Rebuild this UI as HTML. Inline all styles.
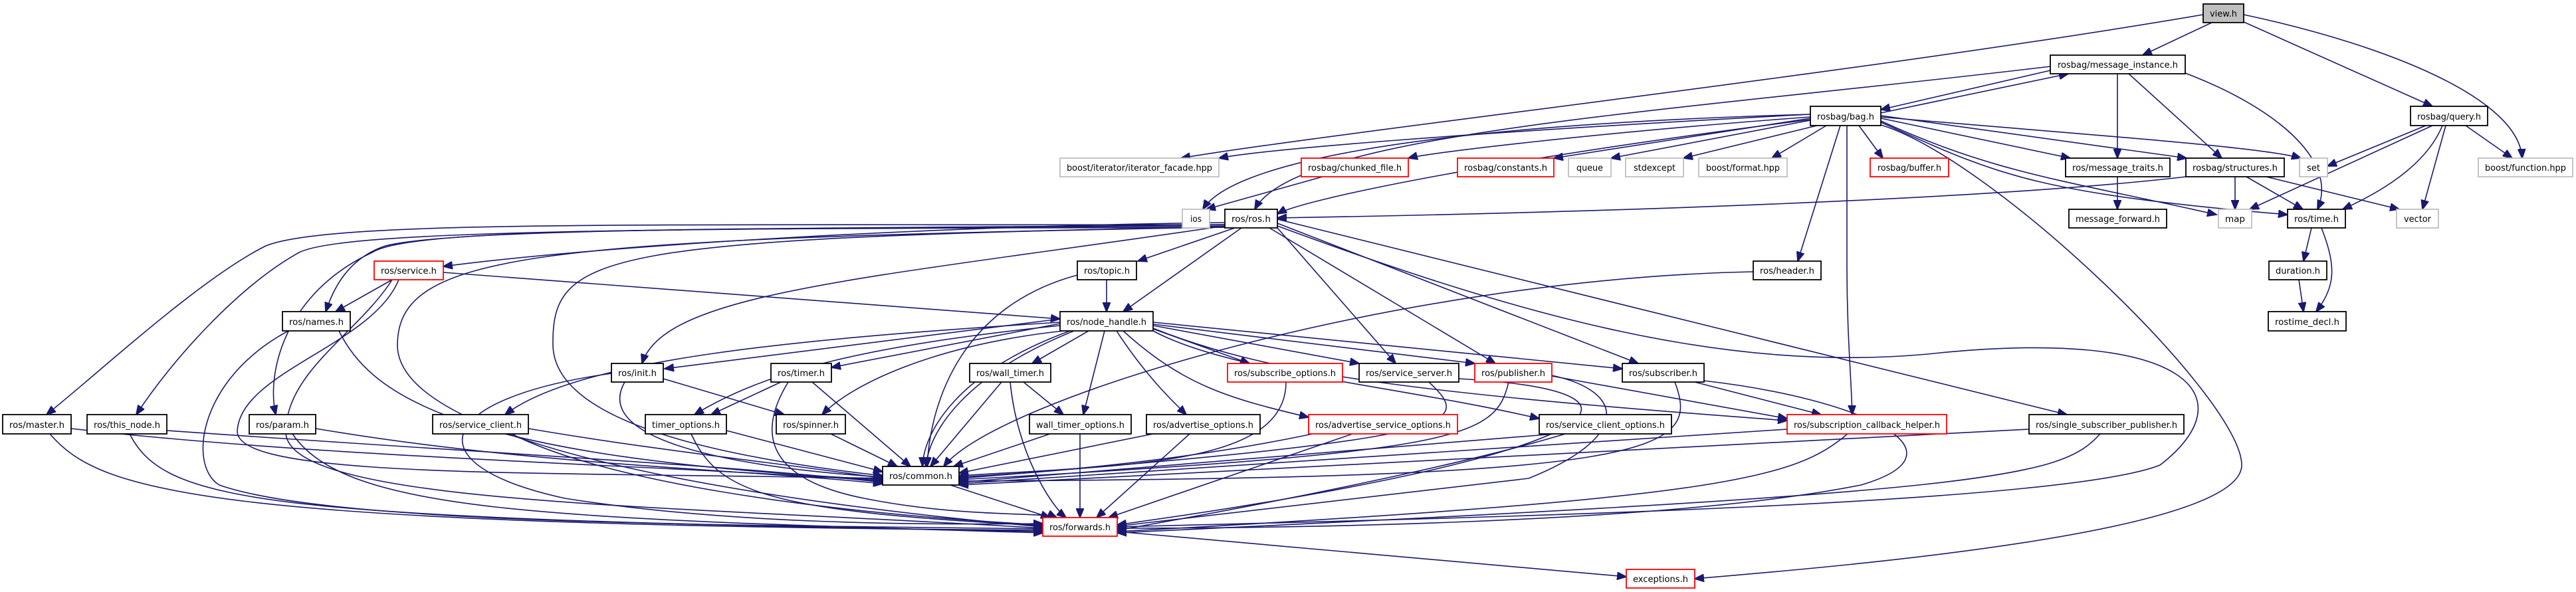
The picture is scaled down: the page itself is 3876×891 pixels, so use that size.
<!DOCTYPE html>
<html><head><meta charset="utf-8"><style>
html,body{margin:0;padding:0;background:#fff;}
svg{display:block;}
text{font-family:"DejaVu Sans","Liberation Sans",sans-serif;font-size:13px;fill:#000;}
.e{fill:none;stroke:#191970;stroke-width:1.6;marker-end:url(#a);}
.b{fill:#fff;stroke:#000;stroke-width:1.8;}
.r{fill:#fff;stroke:#ff0000;stroke-width:1.8;}
.g{fill:#fff;stroke:#bfbfbf;stroke-width:1.8;}
</style></head><body>
<svg width="3876" height="891" viewBox="0 0 3876 891" xmlns="http://www.w3.org/2000/svg">
<defs><marker id="a" markerUnits="userSpaceOnUse" markerWidth="16" markerHeight="12" refX="14" refY="6" orient="auto"><path d="M0,0 L15,6 L0,12 z" fill="#191970" stroke="#191970"/></marker></defs>
<g>
<path class="e" d="M3328 34 L3224 83"/>
<path class="e" d="M3376 33 L3660 160"/>
<path class="e" d="M3376 22 C3600 70 3790 150 3795 238"/>
<path class="e" d="M3315 22 C2800 110 2000 200 1777 238"/>
<path class="e" d="M3186 111 L3186 238"/>
<path class="e" d="M3203 111 L3343 238"/>
<path class="e" d="M3288 110 C3420 160 3520 240 3487 315"/>
<path class="e" d="M3085 106 L2830 165"/>
<path class="e" d="M2830 170 L3112 111"/>
<path class="e" d="M3085 100 C2500 170 1950 200 1888 315"/>
<path class="e" d="M2724 172 C2200 200 1900 225 1834 238"/>
<path class="e" d="M2724 172 C2100 190 1850 250 1810 315"/>
<path class="e" d="M2724 180 C2250 240 1960 300 1922 322"/>
<path class="e" d="M2724 176 C2400 200 2150 230 2119 238"/>
<path class="e" d="M2724 178 L2338 238"/>
<path class="e" d="M2724 181 L2424 238"/>
<path class="e" d="M2734 189 L2533 238"/>
<path class="e" d="M2748 189 L2666 238"/>
<path class="e" d="M2797 189 L2833 238"/>
<path class="e" d="M2769 189 L2705 393"/>
<path class="e" d="M2779 189 L2779 400 C2779 500 2785 560 2787 624"/>
<path class="e" d="M2830 178 L3115 238"/>
<path class="e" d="M2830 174 L3290 238"/>
<path class="e" d="M2830 176 C3100 200 3400 220 3462 238"/>
<path class="e" d="M2830 182 C3000 260 3100 270 3335 323"/>
<path class="e" d="M2830 184 C3000 260 3050 290 3442 323"/>
<path class="e" d="M2830 188 C3000 240 3373 600 3373 700 C3373 800 2800 850 2550 871"/>
<path class="e" d="M1922 340 C2300 480 2600 560 2900 533 C3300 490 3380 600 3250 700 C3100 760 2200 780 1681 793"/>
<path class="e" d="M1858 343 L1712 393"/>
<path class="e" d="M1868 343 L1690 469"/>
<path class="e" d="M1843 335 C1400 340 900 370 667 401"/>
<path class="e" d="M1843 338 C1300 345 700 340 580 370 C520 390 500 440 490 469"/>
<path class="e" d="M1843 338 C1000 340 500 330 400 370 C300 420 150 560 70 624"/>
<path class="e" d="M1843 340 C1000 345 520 345 450 380 C360 430 260 540 205 624"/>
<path class="e" d="M1843 342 C1100 345 620 340 560 380 C430 440 400 560 415 624"/>
<path class="e" d="M1843 340 C1300 420 1000 440 966 547"/>
<path class="e" d="M1843 341 C900 360 830 380 832 520 C835 640 1100 690 1328 716"/>
<path class="e" d="M1843 342 C800 360 598 380 598 520 C600 680 1200 760 1569 793"/>
<path class="e" d="M1922 343 L2100 547"/>
<path class="e" d="M1910 343 L2250 547"/>
<path class="e" d="M1922 336 L2465 547"/>
<path class="e" d="M1922 330 L3110 624"/>
<path class="e" d="M2638 409 C2100 420 1500 600 1420 702"/>
<path class="e" d="M1665 421 L1665 469"/>
<path class="e" d="M1621 414 C1450 460 1400 600 1395 702"/>
<path class="e" d="M590 421 L505 469"/>
<path class="e" d="M667 410 L1595 480"/>
<path class="e" d="M600 421 C560 520 360 560 357 650 C360 720 800 710 1328 720"/>
<path class="e" d="M590 421 C540 500 430 560 430 650 C430 760 1000 760 1569 795"/>
<path class="e" d="M510 498 C560 600 700 690 1328 722"/>
<path class="e" d="M450 490 C300 560 280 700 330 730 C500 790 1100 790 1569 796"/>
<path class="e" d="M107 645 C500 690 1000 700 1328 724"/>
<path class="e" d="M75 653 C150 740 300 790 1569 798"/>
<path class="e" d="M251 648 C700 680 1100 700 1328 726"/>
<path class="e" d="M195 653 C250 760 400 780 1569 800"/>
<path class="e" d="M475 645 C800 700 1100 705 1328 728"/>
<path class="e" d="M440 653 C520 770 800 780 1569 802"/>
<path class="e" d="M795 645 C1000 680 1200 700 1328 720"/>
<path class="e" d="M770 653 C900 720 1200 770 1569 790"/>
<path class="e" d="M940 575 C880 680 1200 710 1328 718"/>
<path class="e" d="M920 562 C650 600 620 700 850 750 C1100 790 1400 790 1569 788"/>
<path class="e" d="M998 570 L1180 624"/>
<path class="e" d="M1595 480 L1000 555"/>
<path class="e" d="M1595 487 L1251 553"/>
<path class="e" d="M1638 498 L1553 547"/>
<path class="e" d="M1600 498 C1400 520 1280 580 1237 624"/>
<path class="e" d="M1595 490 C1300 520 1150 560 1045 624"/>
<path class="e" d="M1595 485 C1200 510 870 540 760 624"/>
<path class="e" d="M1610 498 C1440 560 1390 650 1388 702"/>
<path class="e" d="M1616 498 C1450 565 1398 650 1393 702"/>
<path class="e" d="M1680 498 C1720 560 1760 600 1785 624"/>
<path class="e" d="M1662 498 L1630 624"/>
<path class="e" d="M1735 495 L1880 547"/>
<path class="e" d="M1735 490 L2045 547"/>
<path class="e" d="M1735 488 L2219 547"/>
<path class="e" d="M1735 485 L2441 555"/>
<path class="e" d="M1690 498 C1780 580 1850 600 1969 628"/>
<path class="e" d="M1735 498 C1850 560 2100 580 2316 630"/>
<path class="e" d="M1735 494 C1900 560 2100 590 2689 633"/>
<path class="e" d="M1175 575 L1070 624"/>
<path class="e" d="M1222 575 L1370 702"/>
<path class="e" d="M1186 575 C1140 650 1150 720 1300 750 C1450 780 1570 770 1590 779"/>
<path class="e" d="M1540 575 L1600 624"/>
<path class="e" d="M1507 575 L1400 702"/>
<path class="e" d="M1520 575 C1530 680 1580 760 1604 779"/>
<path class="e" d="M1093 648 L1328 710"/>
<path class="e" d="M1040 653 C1080 740 1150 770 1569 791"/>
<path class="e" d="M1250 653 L1350 702"/>
<path class="e" d="M1580 653 L1435 702"/>
<path class="e" d="M1625 653 L1625 779"/>
<path class="e" d="M1735 653 L1443 712"/>
<path class="e" d="M1790 653 L1650 779"/>
<path class="e" d="M1975 653 C1800 690 1600 710 1443 718"/>
<path class="e" d="M2035 653 L1668 779"/>
<path class="e" d="M1935 575 C1935 700 1700 700 1443 716"/>
<path class="e" d="M2150 575 C2220 640 2200 660 1443 720"/>
<path class="e" d="M2195 570 C2550 590 2400 690 1681 790"/>
<path class="e" d="M2270 575 C2250 660 2200 680 1443 722"/>
<path class="e" d="M2335 565 C2450 590 2450 660 2300 720 L1681 792"/>
<path class="e" d="M2335 566 L2689 630"/>
<path class="e" d="M2550 575 L2740 624"/>
<path class="e" d="M2520 575 C2560 680 2500 720 1443 724"/>
<path class="e" d="M2564 573 C2800 600 2970 680 2800 730 C2500 790 1900 795 1681 795"/>
<path class="e" d="M2340 653 L1443 726"/>
<path class="e" d="M2355 653 C2200 700 1900 760 1681 798"/>
<path class="e" d="M2689 646 L1443 728"/>
<path class="e" d="M2780 653 C2700 720 2600 750 1681 800"/>
<path class="e" d="M3053 646 L1443 730"/>
<path class="e" d="M3160 653 C3100 720 3000 740 1681 802"/>
<path class="e" d="M1430 730 L1580 779"/>
<path class="e" d="M1681 800 L2447 868"/>
<path class="e" d="M3363 266 L3363 315"/>
<path class="e" d="M3380 266 L3465 315"/>
<path class="e" d="M3410 266 L3610 315"/>
<path class="e" d="M3289 266 C3000 300 2400 320 1922 328"/>
<path class="e" d="M3186 266 L3186 315"/>
<path class="e" d="M3650 189 L3502 250"/>
<path class="e" d="M3660 189 L3385 315"/>
<path class="e" d="M3675 189 C3650 250 3580 290 3525 315"/>
<path class="e" d="M3680 189 L3645 315"/>
<path class="e" d="M3710 189 L3780 238"/>
<path class="e" d="M3478 343 L3466 393"/>
<path class="e" d="M3493 343 C3515 400 3515 430 3485 469"/>
<path class="e" d="M3459 421 L3466 469"/>
<path class="e" d="M1990 266 L1815 315"/>
</g>
<g>
<rect x="3315" y="6" width="61" height="28" fill="#bfbfbf" stroke="#000" stroke-width="1.8"/><text x="3345.5" y="25" text-anchor="middle" textLength="41" lengthAdjust="spacingAndGlyphs">view.h</text>
<rect class="b" x="3085" y="83" width="203" height="28"/><text x="3186.5" y="102" text-anchor="middle" textLength="181" lengthAdjust="spacingAndGlyphs">rosbag/message_instance.h</text>
<rect class="b" x="3627" y="160" width="116" height="29"/><text x="3685" y="180" text-anchor="middle" textLength="96" lengthAdjust="spacingAndGlyphs">rosbag/query.h</text>
<rect class="b" x="2724" y="160" width="106" height="29"/><text x="2777" y="180" text-anchor="middle" textLength="86" lengthAdjust="spacingAndGlyphs">rosbag/bag.h</text>
<rect class="g" x="1595" y="238" width="239" height="28"/><text x="1714.5" y="257" text-anchor="middle" textLength="219" lengthAdjust="spacingAndGlyphs">boost/iterator/iterator_facade.hpp</text>
<rect class="r" x="1958" y="238" width="161" height="28"/><text x="2038.5" y="257" text-anchor="middle" textLength="141" lengthAdjust="spacingAndGlyphs">rosbag/chunked_file.h</text>
<rect class="r" x="2193" y="238" width="145" height="28"/><text x="2265.5" y="257" text-anchor="middle" textLength="125" lengthAdjust="spacingAndGlyphs">rosbag/constants.h</text>
<rect class="g" x="2360" y="238" width="64" height="28"/><text x="2392" y="257" text-anchor="middle" textLength="40" lengthAdjust="spacingAndGlyphs">queue</text>
<rect class="g" x="2446" y="238" width="87" height="28"/><text x="2489.5" y="257" text-anchor="middle" textLength="63" lengthAdjust="spacingAndGlyphs">stdexcept</text>
<rect class="g" x="2556" y="238" width="133" height="28"/><text x="2622.5" y="257" text-anchor="middle" textLength="111" lengthAdjust="spacingAndGlyphs">boost/format.hpp</text>
<rect class="r" x="2814" y="238" width="118" height="28"/><text x="2873" y="257" text-anchor="middle" textLength="96" lengthAdjust="spacingAndGlyphs">rosbag/buffer.h</text>
<rect class="b" x="3108" y="238" width="157" height="28"/><text x="3186.5" y="257" text-anchor="middle" textLength="137" lengthAdjust="spacingAndGlyphs">ros/message_traits.h</text>
<rect class="b" x="3289" y="238" width="148" height="28"/><text x="3363" y="257" text-anchor="middle" textLength="128" lengthAdjust="spacingAndGlyphs">rosbag/structures.h</text>
<rect class="g" x="3460" y="238" width="42" height="28"/><text x="3481" y="257" text-anchor="middle" textLength="20" lengthAdjust="spacingAndGlyphs">set</text>
<rect class="g" x="3729" y="238" width="142" height="28"/><text x="3800" y="257" text-anchor="middle" textLength="122" lengthAdjust="spacingAndGlyphs">boost/function.hpp</text>
<rect class="g" x="1779" y="315" width="41" height="28"/><text x="1799.5" y="334" text-anchor="middle" textLength="17" lengthAdjust="spacingAndGlyphs">ios</text>
<rect class="b" x="1843" y="315" width="79" height="28"/><text x="1882.5" y="334" text-anchor="middle" textLength="59" lengthAdjust="spacingAndGlyphs">ros/ros.h</text>
<rect class="b" x="3113" y="315" width="147" height="28"/><text x="3186.5" y="334" text-anchor="middle" textLength="127" lengthAdjust="spacingAndGlyphs">message_forward.h</text>
<rect class="g" x="3338" y="315" width="50" height="28"/><text x="3363" y="334" text-anchor="middle" textLength="30" lengthAdjust="spacingAndGlyphs">map</text>
<rect class="b" x="3442" y="315" width="87" height="28"/><text x="3485.5" y="334" text-anchor="middle" textLength="67" lengthAdjust="spacingAndGlyphs">ros/time.h</text>
<rect class="g" x="3606" y="315" width="63" height="28"/><text x="3637.5" y="334" text-anchor="middle" textLength="41" lengthAdjust="spacingAndGlyphs">vector</text>
<rect class="r" x="563" y="393" width="104" height="28"/><text x="615" y="412" text-anchor="middle" textLength="84" lengthAdjust="spacingAndGlyphs">ros/service.h</text>
<rect class="b" x="1621" y="393" width="89" height="28"/><text x="1665.5" y="412" text-anchor="middle" textLength="69" lengthAdjust="spacingAndGlyphs">ros/topic.h</text>
<rect class="b" x="2638" y="393" width="102" height="28"/><text x="2689" y="412" text-anchor="middle" textLength="82" lengthAdjust="spacingAndGlyphs">ros/header.h</text>
<rect class="b" x="3414" y="393" width="87" height="28"/><text x="3457.5" y="412" text-anchor="middle" textLength="67" lengthAdjust="spacingAndGlyphs">duration.h</text>
<rect class="b" x="425" y="469" width="102" height="29"/><text x="476" y="489" text-anchor="middle" textLength="82" lengthAdjust="spacingAndGlyphs">ros/names.h</text>
<rect class="b" x="1595" y="469" width="140" height="29"/><text x="1665" y="489" text-anchor="middle" textLength="120" lengthAdjust="spacingAndGlyphs">ros/node_handle.h</text>
<rect class="b" x="3413" y="469" width="117" height="29"/><text x="3471.5" y="489" text-anchor="middle" textLength="97" lengthAdjust="spacingAndGlyphs">rostime_decl.h</text>
<rect class="b" x="920" y="547" width="78" height="28"/><text x="959" y="566" text-anchor="middle" textLength="58" lengthAdjust="spacingAndGlyphs">ros/init.h</text>
<rect class="b" x="1160" y="547" width="91" height="28"/><text x="1205.5" y="566" text-anchor="middle" textLength="71" lengthAdjust="spacingAndGlyphs">ros/timer.h</text>
<rect class="b" x="1459" y="547" width="122" height="28"/><text x="1520" y="566" text-anchor="middle" textLength="102" lengthAdjust="spacingAndGlyphs">ros/wall_timer.h</text>
<rect class="r" x="1847" y="547" width="173" height="28"/><text x="1933.5" y="566" text-anchor="middle" textLength="153" lengthAdjust="spacingAndGlyphs">ros/subscribe_options.h</text>
<rect class="b" x="2045" y="547" width="150" height="28"/><text x="2120" y="566" text-anchor="middle" textLength="130" lengthAdjust="spacingAndGlyphs">ros/service_server.h</text>
<rect class="r" x="2219" y="547" width="116" height="28"/><text x="2277" y="566" text-anchor="middle" textLength="96" lengthAdjust="spacingAndGlyphs">ros/publisher.h</text>
<rect class="b" x="2441" y="547" width="123" height="28"/><text x="2502.5" y="566" text-anchor="middle" textLength="103" lengthAdjust="spacingAndGlyphs">ros/subscriber.h</text>
<rect class="b" x="4" y="624" width="103" height="29"/><text x="55.5" y="644" text-anchor="middle" textLength="83" lengthAdjust="spacingAndGlyphs">ros/master.h</text>
<rect class="b" x="131" y="624" width="120" height="29"/><text x="191" y="644" text-anchor="middle" textLength="100" lengthAdjust="spacingAndGlyphs">ros/this_node.h</text>
<rect class="b" x="375" y="624" width="100" height="29"/><text x="425" y="644" text-anchor="middle" textLength="80" lengthAdjust="spacingAndGlyphs">ros/param.h</text>
<rect class="b" x="651" y="624" width="144" height="29"/><text x="723" y="644" text-anchor="middle" textLength="124" lengthAdjust="spacingAndGlyphs">ros/service_client.h</text>
<rect class="b" x="971" y="624" width="122" height="29"/><text x="1032" y="644" text-anchor="middle" textLength="102" lengthAdjust="spacingAndGlyphs">timer_options.h</text>
<rect class="b" x="1168" y="624" width="104" height="29"/><text x="1220" y="644" text-anchor="middle" textLength="84" lengthAdjust="spacingAndGlyphs">ros/spinner.h</text>
<rect class="b" x="1549" y="624" width="153" height="29"/><text x="1625.5" y="644" text-anchor="middle" textLength="133" lengthAdjust="spacingAndGlyphs">wall_timer_options.h</text>
<rect class="b" x="1725" y="624" width="171" height="29"/><text x="1810.5" y="644" text-anchor="middle" textLength="151" lengthAdjust="spacingAndGlyphs">ros/advertise_options.h</text>
<rect class="r" x="1969" y="624" width="224" height="29"/><text x="2081" y="644" text-anchor="middle" textLength="204" lengthAdjust="spacingAndGlyphs">ros/advertise_service_options.h</text>
<rect class="b" x="2316" y="624" width="199" height="29"/><text x="2415.5" y="644" text-anchor="middle" textLength="179" lengthAdjust="spacingAndGlyphs">ros/service_client_options.h</text>
<rect class="r" x="2689" y="624" width="240" height="29"/><text x="2809" y="644" text-anchor="middle" textLength="220" lengthAdjust="spacingAndGlyphs">ros/subscription_callback_helper.h</text>
<rect class="b" x="3053" y="624" width="233" height="29"/><text x="3169.5" y="644" text-anchor="middle" textLength="213" lengthAdjust="spacingAndGlyphs">ros/single_subscriber_publisher.h</text>
<rect class="b" x="1328" y="702" width="115" height="28"/><text x="1385.5" y="721" text-anchor="middle" textLength="95" lengthAdjust="spacingAndGlyphs">ros/common.h</text>
<rect class="r" x="1569" y="779" width="112" height="28"/><text x="1625" y="798" text-anchor="middle" textLength="92" lengthAdjust="spacingAndGlyphs">ros/forwards.h</text>
<rect class="r" x="2447" y="857" width="103" height="28"/><text x="2498.5" y="876" text-anchor="middle" textLength="83" lengthAdjust="spacingAndGlyphs">exceptions.h</text>
</g>
</svg>
</body></html>
